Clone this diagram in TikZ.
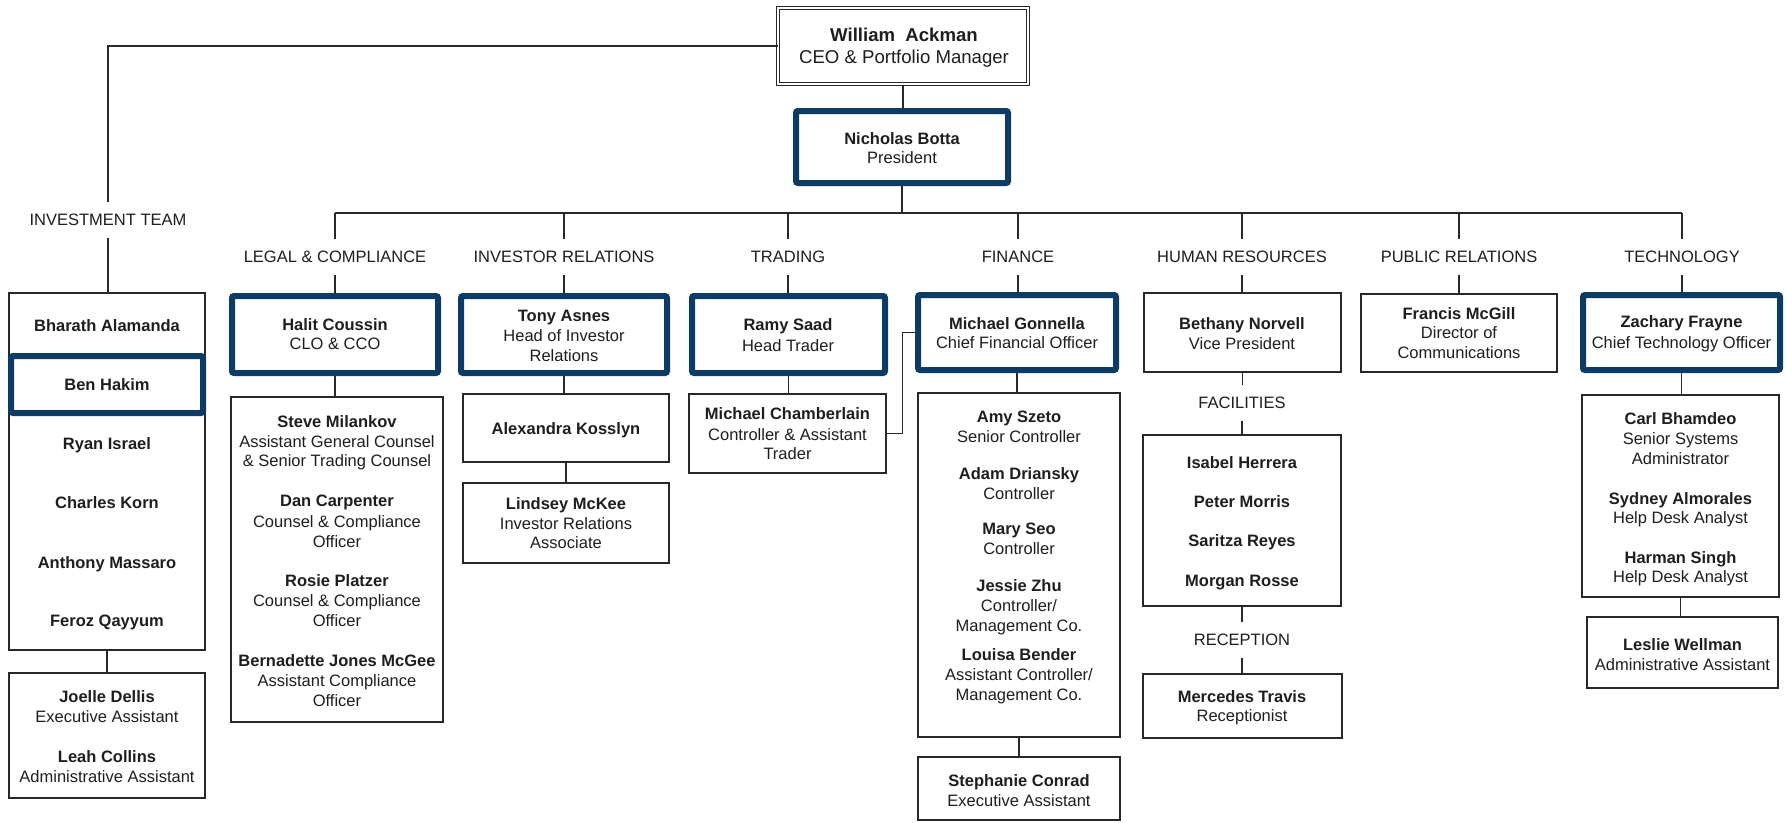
\documentclass[tikz,border=0pt]{standalone}
\usepackage{fontspec}
\setmainfont{Liberation Sans}
\definecolor{navy}{RGB}{12,59,99}
\definecolor{ink}{RGB}{30,30,30}
\definecolor{ln}{RGB}{40,40,40}
\newcommand\NM[4]{\node[nm] (#1) at (#2,#3+6) {#4};}
\newcommand\TL[4]{\node[tl] (#1) at (#2,#3+6) {#4};}
\begin{document}
\begin{tikzpicture}[x=1pt,y=-1pt,
  every node/.style={inner sep=0pt, text=ink},
  nm/.style={anchor=base, font=\fontsize{16.5}{20}\selectfont\bfseries},
  tl/.style={anchor=base, font=\fontsize{16.5}{20}\selectfont},
  lbl/.style={font=\fontsize{16.5}{20}\selectfont, text height=11.8pt, text depth=0pt, inner ysep=11.6pt, inner xsep=2pt},
  box/.style={draw=ln, line width=1.3pt},
  hbox/.style={draw=navy, line width=6pt, rounded corners=2pt},
  conn/.style={draw=ln, line width=1.3pt},
]
\fill[white] (0,0) rectangle (1787,822);
\useasboundingbox (0,0) rectangle (1787,822);

% ---------- top ----------
\node[draw=ln, line width=1pt, double=white, double distance=2pt, minimum width=250, minimum height=76] (ack) at (903,46) {};
\node[anchor=base, font=\fontsize{18.6}{22}\selectfont\bfseries] (a1) at (904,41.7) {William\ \ Ackman};
\node[anchor=base, font=\fontsize{18.6}{22}\selectfont] (a2) at (904,63.7) {CEO \& Portfolio Manager};

\node[hbox, minimum width=212, minimum height=72] (botta) at (902,147) {};
\NM{b1}{902}{138}{Nicholas Botta}
\TL{b2}{902}{157}{President}

% ---------- labels ----------
\node[lbl] (Linv) at (108,220) {INVESTMENT TEAM};
\node[lbl] (Llegal) at (335,257) {LEGAL \& COMPLIANCE};
\node[lbl] (Lir) at (564,257) {INVESTOR RELATIONS};
\node[lbl] (Ltrade) at (788,257) {TRADING};
\node[lbl] (Lfin) at (1018,257) {FINANCE};
\node[lbl] (Lhr) at (1242,257) {HUMAN RESOURCES};
\node[lbl] (Lpr) at (1459,257) {PUBLIC RELATIONS};
\node[lbl] (Ltech) at (1682,257) {TECHNOLOGY};
\node[lbl] (Lfac) at (1242,403) {FACILITIES};
\node[lbl] (Lrec) at (1242,640) {RECEPTION};

% ---------- investment team ----------
\node[box, minimum width=196, minimum height=357] (inv) at (107,471.5) {};
\node[hbox, minimum width=192, minimum height=57] (ben) at (107,384.5) {};
\NM{i1}{107}{325}{Bharath Alamanda}
\NM{i2}{107}{384}{Ben Hakim}
\NM{i3}{107}{443}{Ryan Israel}
\NM{i4}{107}{502}{Charles Korn}
\NM{i5}{107}{562}{Anthony Massaro}
\NM{i6}{107}{620}{Feroz Qayyum}
\node[box, minimum width=196, minimum height=125] (joel) at (107,735.5) {};
\NM{j1}{107}{696}{Joelle Dellis}
\TL{j2}{107}{716}{Executive Assistant}
\NM{j3}{107}{756}{Leah Collins}
\TL{j4}{107}{776}{Administrative Assistant}

% ---------- legal ----------
\node[hbox, minimum width=206, minimum height=77] (halit) at (335,334.5) {};
\NM{l1}{335}{324}{Halit Coussin}
\TL{l2}{335}{343}{CLO \& CCO}
\node[box, minimum width=212, minimum height=325] (steve) at (337,559.5) {};
\NM{s1}{337}{421}{Steve Milankov}
\TL{s2}{337}{441}{Assistant General Counsel}
\TL{s3}{337}{460}{\& Senior Trading Counsel}
\NM{s4}{337}{500}{Dan Carpenter}
\TL{s5}{337}{521}{Counsel \& Compliance}
\TL{s6}{337}{541}{Officer}
\NM{s7}{337}{580}{Rosie Platzer}
\TL{s8}{337}{600}{Counsel \& Compliance}
\TL{s9}{337}{620}{Officer}
\NM{s10}{337}{660}{Bernadette Jones McGee}
\TL{s11}{337}{680}{Assistant Compliance}
\TL{s12}{337}{700}{Officer}

% ---------- investor relations ----------
\node[hbox, minimum width=206, minimum height=77] (tony) at (564,334.5) {};
\NM{r1}{564}{315}{Tony Asnes}
\TL{r2}{564}{335}{Head of Investor}
\TL{r3}{564}{355}{Relations}
\node[box, minimum width=206, minimum height=68] (alex) at (566,428) {};
\NM{r4}{566}{428}{Alexandra Kosslyn}
\node[box, minimum width=206, minimum height=80] (lind) at (566,523) {};
\NM{r5}{566}{503}{Lindsey McKee}
\TL{r6}{566}{523}{Investor Relations}
\TL{r7}{566}{542}{Associate}

% ---------- trading ----------
\node[hbox, minimum width=193, minimum height=77] (ramy) at (788.5,334.5) {};
\NM{t1}{788}{324}{Ramy Saad}
\TL{t2}{788}{345}{Head Trader}
\node[box, minimum width=197, minimum height=79] (cham) at (787.5,433.5) {};
\NM{t3}{787.5}{413}{Michael Chamberlain}
\TL{t4}{787.5}{434}{Controller \& Assistant}
\TL{t5}{787.5}{453}{Trader}

% ---------- finance ----------
\node[hbox, minimum width=198, minimum height=75] (gon) at (1017,332.5) {};
\NM{f1}{1017}{323}{Michael Gonnella}
\TL{f2}{1017}{342}{Chief Financial Officer}
\node[box, minimum width=202, minimum height=344] (amy) at (1019,565) {};
\NM{f3}{1019}{416}{Amy Szeto}
\TL{f4}{1019}{436}{Senior Controller}
\NM{f5}{1019}{473}{Adam Driansky}
\TL{f6}{1019}{493}{Controller}
\NM{f7}{1019}{528}{Mary Seo}
\TL{f8}{1019}{548}{Controller}
\NM{f9}{1019}{585}{Jessie Zhu}
\TL{f10}{1019}{605}{Controller/}
\TL{f11}{1019}{625}{Management Co.}
\NM{f12}{1019}{654}{Louisa Bender}
\TL{f13}{1019}{674}{Assistant Controller/}
\TL{f14}{1019}{694}{Management Co.}
\node[box, minimum width=202, minimum height=63] (steph) at (1019,788.5) {};
\NM{f15}{1019}{780}{Stephanie Conrad}
\TL{f16}{1019}{800}{Executive Assistant}

% ---------- human resources ----------
\node[box, minimum width=197, minimum height=79] (beth) at (1242.5,332.5) {};
\NM{h1}{1242}{323}{Bethany Norvell}
\TL{h2}{1242}{343}{Vice President}
\node[box, minimum width=198, minimum height=171] (isab) at (1242,520.5) {};
\NM{h3}{1242}{462}{Isabel Herrera}
\NM{h4}{1242}{501}{Peter Morris}
\NM{h5}{1242}{540}{Saritza Reyes}
\NM{h6}{1242}{580}{Morgan Rosse}
\node[box, minimum width=199, minimum height=64] (merc) at (1242.5,706) {};
\NM{h7}{1242}{696}{Mercedes Travis}
\TL{h8}{1242}{715}{Receptionist}

% ---------- public relations ----------
\node[box, minimum width=196, minimum height=78] (fran) at (1459,333) {};
\NM{p1}{1459}{313}{Francis McGill}
\TL{p2}{1459}{332}{Director of}
\TL{p3}{1459}{352}{Communications}

% ---------- technology ----------
\node[hbox, minimum width=197, minimum height=75] (zach) at (1681.5,332.5) {};
\NM{c1}{1681.5}{321}{Zachary Frayne}
\TL{c2}{1681.5}{342}{Chief Technology Officer}
\node[box, minimum width=197, minimum height=202] (carl) at (1680.5,496) {};
\NM{c3}{1680.5}{418}{Carl Bhamdeo}
\TL{c4}{1680.5}{438}{Senior Systems}
\TL{c5}{1680.5}{458}{Administrator}
\NM{c6}{1680.5}{498}{Sydney Almorales}
\TL{c7}{1680.5}{517}{Help Desk Analyst}
\NM{c8}{1680.5}{557}{Harman Singh}
\TL{c9}{1680.5}{576}{Help Desk Analyst}
\node[box, minimum width=191, minimum height=71] (lesl) at (1682.5,652.5) {};
\NM{c10}{1682.5}{644}{Leslie Wellman}
\TL{c11}{1682.5}{664}{Administrative Assistant}

% ---------- connectors ----------
\coordinate (busL) at (335,213);
\coordinate (busR) at (1682,213);
\draw[conn] (ack.west) -| (Linv.north);
\draw[conn] (Linv.south) -- (Linv.south |- inv.north);
\draw[conn] (inv.south) -- (inv.south |- joel.north);
\draw[conn] (ack.south) -- (ack.south |- botta.north);
\draw[conn] (botta.south) -- (botta.south |- busL);
\draw[conn] (busL) -- (busR);
\foreach \n in {Llegal,Lir,Ltrade,Lfin,Lhr,Lpr,Ltech}
  \draw[conn] (\n.north) -- (\n.north |- busL);
\draw[conn] (Llegal.south) -- (Llegal.south |- halit.north);
\draw[conn] (Lir.south) -- (Lir.south |- tony.north);
\draw[conn] (Ltrade.south) -- (Ltrade.south |- ramy.north);
\draw[conn] (Lfin.south) -- (Lfin.south |- gon.north);
\draw[conn] (Lhr.south) -- (Lhr.south |- beth.north);
\draw[conn] (Lpr.south) -- (Lpr.south |- fran.north);
\draw[conn] (Ltech.south) -- (Ltech.south |- zach.north);
\draw[conn] (halit.south) -- (halit.south |- steve.north);
\draw[conn] (tony.south) -- (tony.south |- alex.north);
\draw[conn] (alex.south) -- (alex.south |- lind.north);
\draw[conn] (ramy.south) -- (ramy.south |- cham.north);
\draw[conn] (cham.east) -- ++(16,0) |- (gon.west);
\draw[conn] (gon.south) -- (gon.south |- amy.north);
\draw[conn] (amy.south) -- (amy.south |- steph.north);
\draw[conn] (beth.south) -- (beth.south |- Lfac.north);
\draw[conn] (Lfac.south) -- (Lfac.south |- isab.north);
\draw[conn] (isab.south) -- (isab.south |- Lrec.north);
\draw[conn] (Lrec.south) -- (Lrec.south |- merc.north);
\draw[conn] (zach.south) -- (zach.south |- carl.north);
\draw[conn] (carl.south) -- (carl.south |- lesl.north);
\end{tikzpicture}
\end{document}
